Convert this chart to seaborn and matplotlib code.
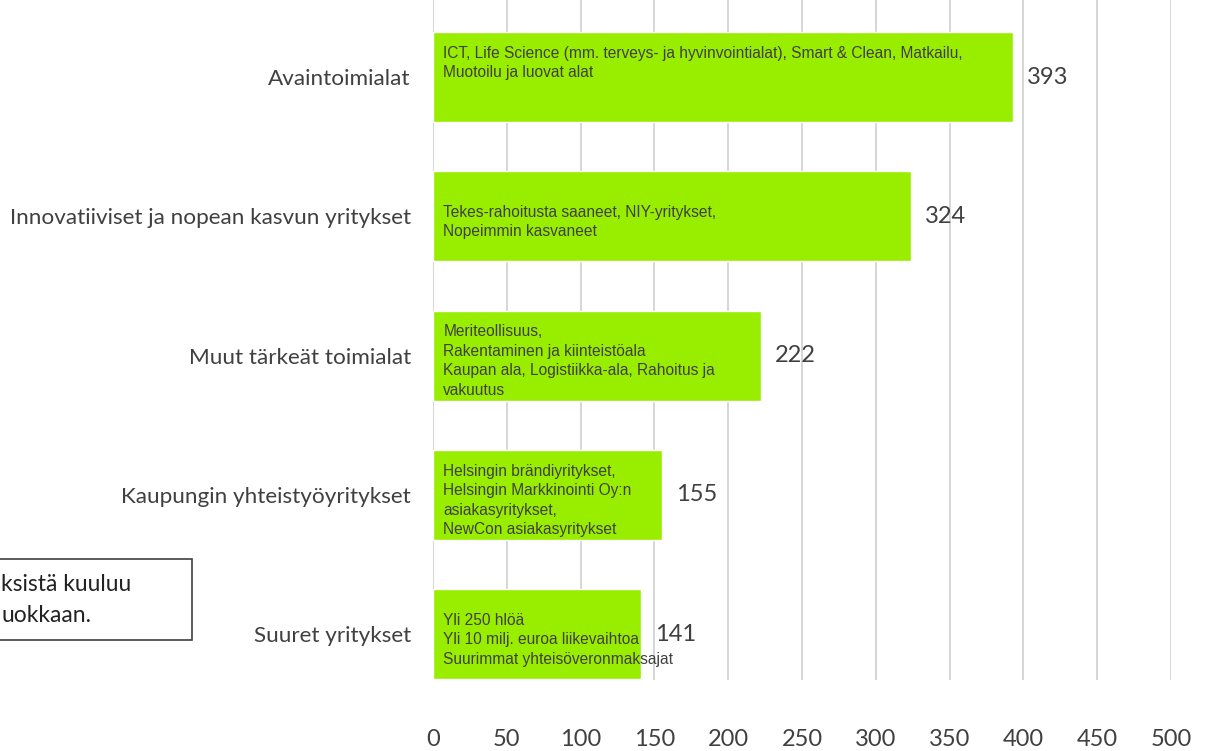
import matplotlib
matplotlib.use("Agg")
import matplotlib.pyplot as plt
import seaborn as sns
import pandas as pd
from matplotlib.patches import Rectangle

categories = ["Avaintoimialat",
              "Innovatiiviset ja nopean kasvun yritykset",
              "Muut tärkeät toimialat",
              "Kaupungin yhteistyöyritykset",
              "Suuret yritykset"]
values = [393, 324, 222, 155, 141]
descriptions = [
    "ICT, Life Science (mm. terveys- ja hyvinvointialat), Smart & Clean, Matkailu,\nMuotoilu ja luovat alat\n\n",
    "Tekes-rahoitusta saaneet, NIY-yritykset,\nNopeimmin kasvaneet",
    "Meriteollisuus,\nRakentaminen ja kiinteistöala\nKaupan ala, Logistiikka-ala, Rahoitus ja\nvakuutus",
    "Helsingin brändiyritykset,\nHelsingin Markkinointi Oy:n\nasiakasyritykset,\nNewCon asiakasyritykset",
    "Yli 250 hlöä\nYli 10 milj. euroa liikevaihtoa\nSuurimmat yhteisöveronmaksajat",
]
xticks = [0, 50, 100, 150, 200, 250, 300, 350, 400, 450, 500]
note = "ksistä kuuluu\nuokkaan."

df = pd.DataFrame({"kategoria": categories, "lkm": values})

sns.set_style("white")
plt.rcParams["font.family"] = ["Lato", "DejaVu Sans"]

fig = plt.figure(figsize=(12.08, 7.51), dpi=100)
ax = fig.add_axes([433 / 1208, 1 - 680 / 751, (1171 - 433) / 1208, 680 / 751])

sns.barplot(data=df, x="lkm", y="kategoria", color="#99ee00", saturation=1,
            width=0.646, ax=ax, zorder=3)

ax.set_xlim(0, 500)
ax.set_ylim(4.33, -0.553)
ax.set_xticks(xticks)
ax.set_xticklabels([str(t) for t in xticks])
ax.xaxis.grid(True, color="#d0d0d0", linewidth=1.2, zorder=0)
ax.set_axisbelow(True)
for s in ax.spines.values():
    s.set_visible(False)
ax.tick_params(axis="x", length=0, pad=35, labelsize=17, labelcolor="#404040")
ax.tick_params(axis="y", length=0, pad=16, labelsize=16.2, labelcolor="#404040")
ax.set_xlabel("")
ax.set_ylabel("")

for i, (v, d) in enumerate(zip(values, descriptions)):
    ax.text(v + 9.5, i, str(v), va="center", ha="left", fontsize=17,
            color="#404040", zorder=5)
    ax.text(7, i + 0.04, d, va="center", ha="left", fontsize=11.2,
            family="Liberation Sans", color="#404040", linespacing=1.38,
            zorder=5)

fig.patches.append(Rectangle((-0.01, 1 - 640 / 751), 192 / 1208 + 0.01, 81 / 751,
                             transform=fig.transFigure, fill=False,
                             edgecolor="#404040", linewidth=1.2))
fig.text(0.001, 1 - 600 / 751, note, ha="left", va="center", fontsize=16.5,
         color="#222222", linespacing=1.55)

fig.savefig("out.png", dpi=100)
